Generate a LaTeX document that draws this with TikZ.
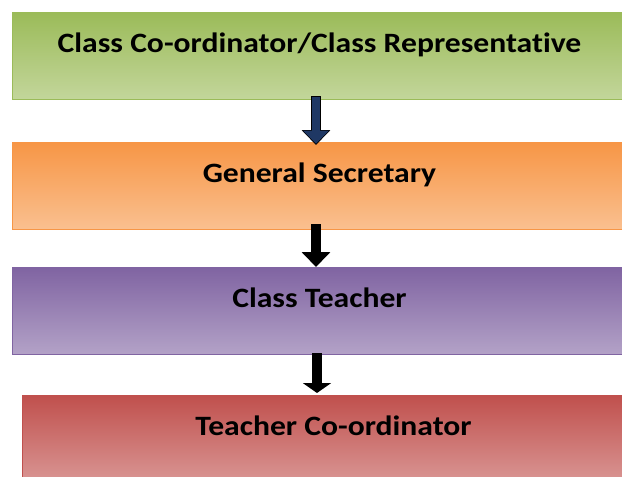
\documentclass[tikz,border=0pt]{standalone}
\usepackage{fontspec}
\setmainfont{Carlito}[FakeStretch=1.13,Ligatures=NoCommon]
\usepackage{tikz}
\usetikzlibrary{arrows.meta}
\usetikzlibrary{positioning}
\definecolor{ccTop}{HTML}{9BBB59}
\definecolor{ccBot}{HTML}{C3D69B}
\definecolor{gsTop}{HTML}{F79646}
\definecolor{gsBot}{HTML}{FAC090}
\definecolor{ctTop}{HTML}{8064A2}
\definecolor{ctBot}{HTML}{B3A2C7}
\definecolor{tcTop}{HTML}{C0504D}
\definecolor{tcBot}{HTML}{D99694}
\definecolor{arrowBlue}{HTML}{1F3864}
\tikzset{
  stagebox/.style={rectangle,anchor=north west,inner xsep=0pt,inner ysep=0pt,
    minimum width=614pt,text height=40pt,text depth=47pt,line width=1pt,
    font=\fontsize{28}{32}\selectfont\bfseries},
  flowarrow/.style={line width=10pt,-{Triangle[length=15pt,width=28pt]}}
}
\begin{document}
\begin{tikzpicture}[x=1pt,y=1pt]
  \useasboundingbox (0,0) rectangle (622,-477);
  \clip (0,0) rectangle (622,-477);
  \foreach \x/\y/\w/\nm/\col/\txt in {
      12/-12/614/cc/cc/Class Co-ordinator{/}Class Representative,
      12/-142/614/gs/gs/General Secretary,
      12/-267/614/ct/ct/Class Teacher,
      22/-395/622/tco/tc/Teacher Co-ordinator
  }{
    \node[stagebox,minimum width=\w pt,draw=\col Top,top color=\col Top,bottom color=\col Bot] (\nm) at (\x,\y) {\txt};
  }
  % arrows between the stages
  \draw[flowarrow,black,shorten <=-4pt,shorten >=-3pt] ([xshift=-3.5pt]cc.south) -- ([xshift=-3.5pt]gs.north);
  \draw[line width=7.6pt,arrowBlue,-{Triangle[length=13pt,width=25pt]},shorten <=-3pt,shorten >=-1.6pt] ([xshift=-3.5pt]cc.south) -- ([xshift=-3.5pt]gs.north);
  \draw[flowarrow,black,shorten <=-6pt] ([xshift=-3.5pt]gs.south) -- ([xshift=-3.5pt]ct.north);
  \draw[flowarrow,black,-{Triangle[length=10pt,width=28pt]},shorten <=-2pt,shorten >=2pt] ([xshift=-2.5pt]ct.south) -- ([xshift=-2.5pt]ct.south |- tco.north);
\end{tikzpicture}
\end{document}
